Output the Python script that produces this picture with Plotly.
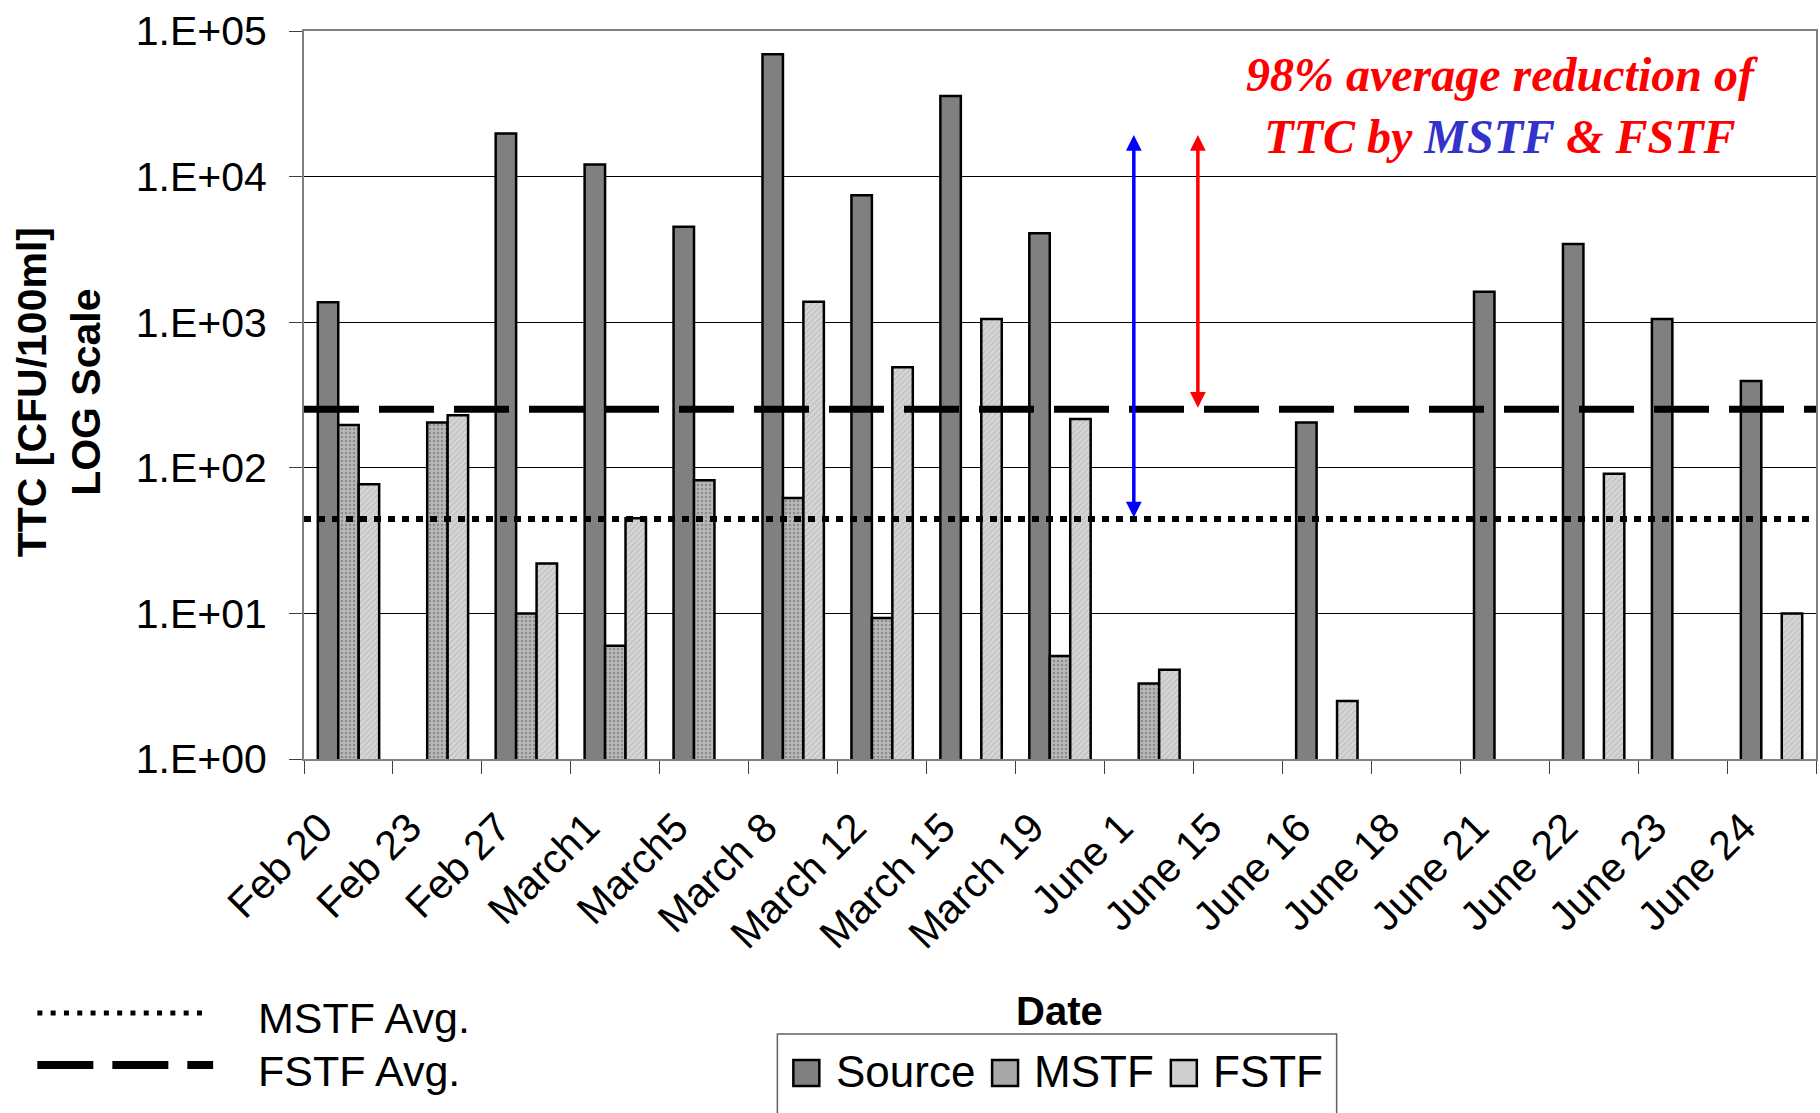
import math
import plotly.graph_objects as go

# ---------------- data ----------------
dates = ["Feb 20", "Feb 23", "Feb 27", "March1", "March5", "March 8", "March 12",
         "March 15", "March 19", "June 1", "June 15", "June 16", "June 18",
         "June 21", "June 22", "June 23", "June 24"]
source = [1370, None, 19800, 12100, 4530, 69200, 7440, 35800, 4080,
          None, None, 205, None, 1620, 3440, 1050, 395]
mstf = [197, 205, 10, 6, 82, 62, 9.3, None, 5.1,
        3.3, None, None, None, None, None, None, None]
fstf = [77, 230, 22, 45, None, 1380, 490, 1050, 216,
        4.1, None, 2.5, None, None, 91, None, 10]
mstf_avg = 44.5
fstf_avg = 252
y_tick_vals = [1, 10, 100, 1000, 10000, 100000]
y_tick_text = ["1.E+00", "1.E+01", "1.E+02", "1.E+03", "1.E+04", "1.E+05"]
arrow_top = 19300

# ---------------- layout geometry (pixels) ----------------
FIG_W, FIG_H = 1820, 1113
M_L, M_R, M_T, M_B = 304, 2, 31, 354
PW = FIG_W - M_L - M_R
PH = FIG_H - M_T - M_B


def px(xp):
    return (xp - M_L) / PW


def py(yp):
    return (FIG_H - M_B - yp) / PH


SANS = "Liberation Sans, Arial, sans-serif"
SERIF = "Liberation Serif, Times New Roman, serif"

fig = go.Figure()

fig.add_trace(go.Bar(
    name="Source", x=dates, y=source,
    marker=dict(color="#808080", line=dict(color="black", width=2.5)),
    showlegend=False))
fig.add_trace(go.Bar(
    name="MSTF", x=dates, y=mstf,
    marker=dict(color="#b0b0b0", line=dict(color="black", width=2.5),
                pattern=dict(shape=".", fgcolor="#606060", bgcolor="#b8b8b8",
                             size=4, solidity=0.3)),
    showlegend=False))
fig.add_trace(go.Bar(
    name="FSTF", x=dates, y=fstf,
    marker=dict(color="#d0d0d0", line=dict(color="black", width=2.5),
                pattern=dict(shape="/", fgcolor="#a4a4a4", bgcolor="#d6d6d6",
                             size=4, solidity=0.3)),
    showlegend=False))

# average lines spanning the full plot width (overlaid linear x axis 0..1)
fig.add_trace(go.Scatter(
    x=[0, 1], y=[fstf_avg, fstf_avg], xaxis="x2", yaxis="y", mode="lines",
    line=dict(color="black", width=7, dash="55px,20px"),
    name="FSTF Avg.", showlegend=False, hoverinfo="skip"))
fig.add_trace(go.Scatter(
    x=[0, 1], y=[mstf_avg, mstf_avg], xaxis="x2", yaxis="y", mode="lines",
    line=dict(color="black", width=6, dash="7px,7px"),
    name="MSTF Avg.", showlegend=False, hoverinfo="skip"))

fig.update_layout(
    width=FIG_W, height=FIG_H,
    margin=dict(l=M_L, r=M_R, t=M_T, b=M_B, pad=0),
    paper_bgcolor="white", plot_bgcolor="white",
    barmode="group", bargap=0.31, bargroupgap=0,
    font=dict(family=SANS, color="black"),
    xaxis=dict(
        type="category", range=[-0.5, len(dates) - 0.5],
        showline=True, linecolor="#808080", linewidth=2, mirror=True,
        ticks="outside", tickson="boundaries", ticklen=13, tickcolor="#404040",
        tickwidth=1, tickangle=-45, tickfont=dict(size=41, family=SANS),
        ticklabelstandoff=26, ticklabelshift=-28,
        showgrid=False, zeroline=False),
    xaxis2=dict(overlaying="x", range=[0, 1], visible=False, anchor="y"),
    yaxis=dict(
        type="log", range=[0, 5],
        tickvals=y_tick_vals, ticktext=y_tick_text,
        tickfont=dict(size=41, family=SANS),
        ticks="outside", ticklen=13, tickcolor="#404040", tickwidth=1,
        ticklabelstandoff=14,
        showgrid=True, gridcolor="black", gridwidth=1,
        showline=True, linecolor="#808080", linewidth=2, mirror=True,
        zeroline=False),
)

annotations = []
# y-axis title
annotations.append(dict(
    text="<b>TTC [CFU/100ml]<br>LOG Scale</b>", textangle=-90,
    xref="paper", yref="paper", x=px(58), y=py(392),
    xanchor="center", yanchor="middle", showarrow=False,
    font=dict(size=41, family=SANS, color="black")))
# x-axis title
annotations.append(dict(
    text="<b>Date</b>", xref="paper", yref="paper", x=px(1060), y=py(1011),
    xanchor="center", yanchor="middle", showarrow=False,
    font=dict(size=40, family=SANS, color="black")))
# headline text
annotations.append(dict(
    text="<b><i>98% average reduction of<br>TTC by "
         "<span style='color:#3333CC'>MSTF</span> &amp; FSTF</i></b>",
    xref="paper", yref="paper", x=px(1504), y=py(106),
    xanchor="center", yanchor="middle", showarrow=False, align="center",
    font=dict(size=48, family=SERIF, color="#FF0000")))
# double-headed arrows
for xpos, bottom, col in [(8.83, mstf_avg, "#0000FF"), (9.55, fstf_avg, "#FF0000")]:
    annotations.append(dict(
        text="", x=xpos, y=math.log10(arrow_top), ax=xpos, ay=math.log10(bottom),
        xref="x", yref="y", axref="x", ayref="y",
        showarrow=True, arrowside="end+start",
        arrowhead=2, startarrowhead=2, arrowsize=0.9, startarrowsize=0.9,
        arrowwidth=3.5, arrowcolor=col, standoff=0, startstandoff=0))

# ----- line legend (bottom left) -----
annotations.append(dict(
    text="MSTF Avg.", xref="paper", yref="paper", x=px(256), y=py(1018),
    xanchor="left", yanchor="middle", showarrow=False,
    font=dict(size=43, family=SANS, color="black")))
annotations.append(dict(
    text="FSTF Avg.", xref="paper", yref="paper", x=px(256), y=py(1071),
    xanchor="left", yanchor="middle", showarrow=False,
    font=dict(size=43, family=SANS, color="black")))

shapes = []
shapes.append(dict(type="line", xref="paper", yref="paper",
                   x0=px(37), x1=px(210), y0=py(1013), y1=py(1013),
                   line=dict(color="black", width=5, dash="5px,8.3px")))
shapes.append(dict(type="line", xref="paper", yref="paper",
                   x0=px(37), x1=px(213), y0=py(1065), y1=py(1065),
                   line=dict(color="black", width=8, dash="56px,19px")))

# ----- series legend box -----
shapes.append(dict(type="rect", xref="paper", yref="paper",
                   x0=px(778), x1=px(1338), y0=py(1034), y1=py(1125),
                   line=dict(color="#606060", width=1.5), fillcolor="white",
                   layer="below"))
legend_items = [("Source", "#808080", 794, 835),
                ("MSTF", "#a8a8a8", 993, 1033),
                ("FSTF", "#cfcfcf", 1172, 1212)]
for name, col, sx, tx in legend_items:
    shapes.append(dict(type="rect", xref="paper", yref="paper",
                       x0=px(sx), x1=px(sx + 26), y0=py(1060), y1=py(1086),
                       line=dict(color="black", width=2.5), fillcolor=col))
    annotations.append(dict(
        text=name, xref="paper", yref="paper", x=px(tx), y=py(1071),
        xanchor="left", yanchor="middle", showarrow=False,
        font=dict(size=44, family=SANS, color="black")))

fig.update_layout(annotations=annotations, shapes=shapes)

fig.write_html("out.html")
